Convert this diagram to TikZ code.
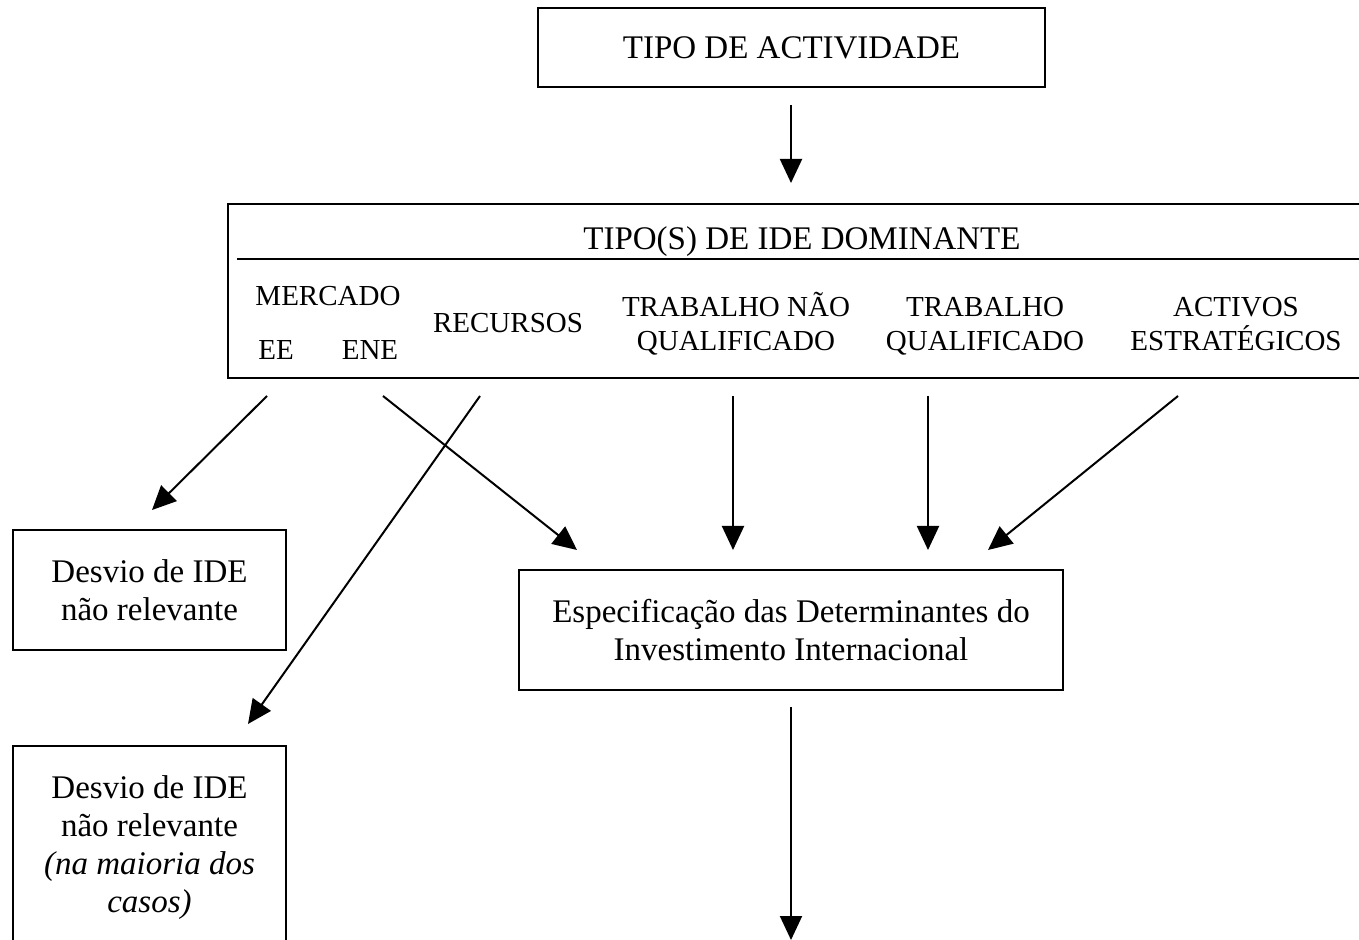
\documentclass[tikz,border=0pt]{standalone}
\usepackage{fontspec}
\setmainfont{Liberation Serif}
\usetikzlibrary{arrows.meta}
\begin{document}
\begin{tikzpicture}[x=0.5pt,y=-0.5pt,
 box/.style={draw, line width=1.2pt, inner sep=0pt, align=center, font=\fontsize{16.5}{19}\selectfont},
 big/.style={inner sep=0pt, align=center, font=\fontsize{16.5}{19}\selectfont},
 lbl/.style={inner sep=0pt, align=center, font=\fontsize{14.5}{17}\selectfont},
 arr/.style={line width=1pt, -{Triangle[length=12pt,width=11pt]}}]
\path[use as bounding box] (0,0) rectangle (1359,940);
\clip (0,0) rectangle (1359,940);

% boxes
\node[box, minimum width=253.5pt, minimum height=39.5pt] (act) at (791.5,47.5) {TIPO DE ACTIVIDADE};
\node[box, minimum width=576pt, minimum height=87pt] (ide) at (804,291) {};
\node[big] (tit) at (802,242) {TIPO(S) DE IDE DOMINANTE};
\draw[line width=1.2pt] (237,259) -- (1380,259);

\node[lbl] (merc) at (328,296) {MERCADO};
\node[lbl] (ee) at (276,350) {EE};
\node[lbl] (ene) at (370,350) {ENE};
\node[lbl] (rec) at (508,323) {RECURSOS};
\node[lbl] (tnq) at (736,324) {TRABALHO NÃO\\QUALIFICADO};
\node[lbl] (tq) at (985,326) {TRABALHO\\QUALIFICADO};
\node[lbl] (ae) at (1236,324) {ACTIVOS\\ESTRATÉGICOS};

\node[box, minimum width=136.5pt, minimum height=60pt] (d1) at (149.5,590) {Desvio de IDE\\não relevante};
\node[box, minimum width=272pt, minimum height=60pt] (esp) at (791,630) {Especificação das Determinantes do\\Investimento Internacional};
\node[box, minimum width=136.5pt, minimum height=102pt] (d2) at (149.5,848) {Desvio de IDE\\não relevante\\\textit{(na maioria dos}\\\textit{casos)}};

% connector end points
\coordinate (t0s) at (791,105); \coordinate (t0e) at (791,183);
\coordinate (a1s) at (267,396); \coordinate (a1e) at (152,510);
\coordinate (a2s) at (383,396); \coordinate (a2e) at (577,550);
\coordinate (a3s) at (480,396); \coordinate (a3e) at (248,724);
\coordinate (a4s) at (733,396); \coordinate (a4e) at (733,550);
\coordinate (a5s) at (928,396); \coordinate (a5e) at (928,550);
\coordinate (a6s) at (1178,396); \coordinate (a6e) at (988,550);
\coordinate (b0s) at (791,707); \coordinate (b0e) at (791,940);

\draw[arr] (t0s) -- (t0e);
\draw[arr] (a1s) -- (a1e);
\draw[arr] (a2s) -- (a2e);
\draw[arr] (a3s) -- (a3e);
\draw[arr] (a4s) -- (a4e);
\draw[arr] (a5s) -- (a5e);
\draw[arr] (a6s) -- (a6e);
\draw[arr] (b0s) -- (b0e);
\end{tikzpicture}
\end{document}
